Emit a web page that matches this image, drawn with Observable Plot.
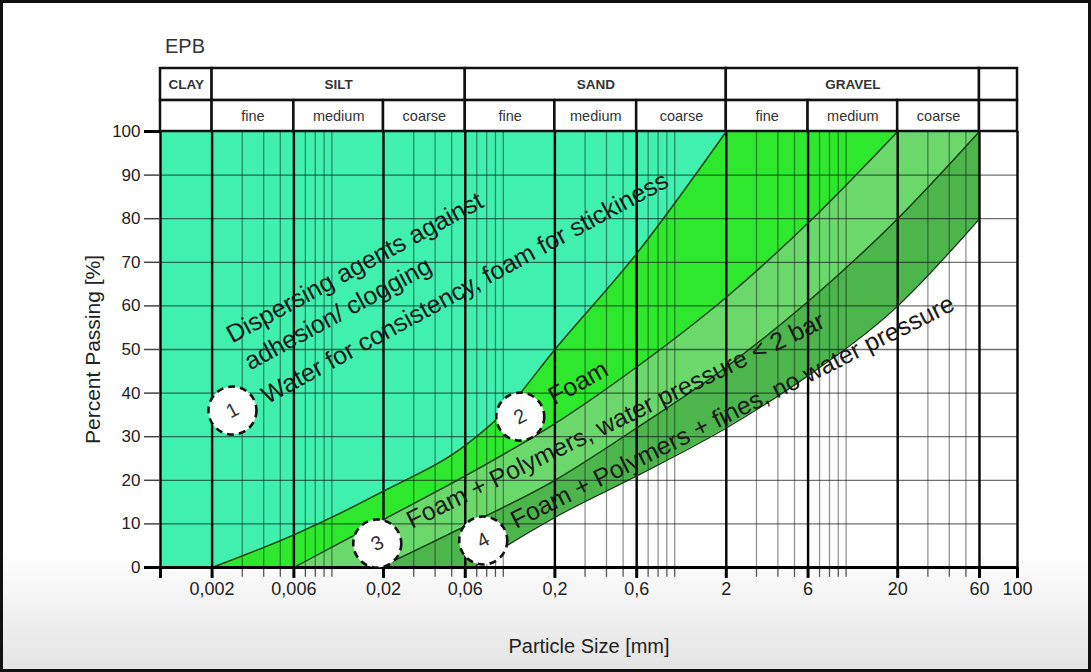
<!DOCTYPE html>
<html>
<head>
<meta charset="utf-8">
<script src="https://cdn.jsdelivr.net/npm/d3@7"></script>
<script src="https://cdn.jsdelivr.net/npm/@observablehq/plot@0.6"></script>
<style>
  html, body { margin: 0; padding: 0; }
  body { width: 1091px; height: 672px; overflow: hidden; font-family: "Liberation Sans", Arial, sans-serif; }
  #wrap { position: relative; width: 1091px; height: 672px;
          background: linear-gradient(to bottom, #ffffff 0%, #ffffff 82%, #e3e3e3 100%); }
  #chart { position: absolute; left: 0; top: 0; }
  #title { position: absolute; left: 165px; top: 35px; font-size: 20px; color: #333; }
  #frame { position: absolute; left: 0; top: 0; width: 1091px; height: 672px; box-sizing: border-box;
           border: 3px solid #111; pointer-events: none; }
</style>
</head>
<body>
<div id="wrap">
  <div id="chart"></div>
  <div id="title">EPB</div>
  <div id="frame"></div>
</div>
<script>
// ---------------- data ----------------
const titleText = "EPB";
const xLabel = "Particle Size [mm]";
const yLabel = "Percent Passing [%]";

const sizeDomain = [0.001, 100];
const fillEnd = 60;
const tableRowSplit = 107.1;
const tableTop = 114.45;

const yTicks = [0, 10, 20, 30, 40, 50, 60, 70, 80, 90, 100];
const xMajor = [0.001, 0.002, 0.006, 0.02, 0.06, 0.2, 0.6, 2, 6, 20, 60, 100];
const xMajorLabels = ["", "0,002", "0,006", "0,02", "0,06", "0,2", "0,6", "2", "6", "20", "60", "100"];
const xMinor = [0.003, 0.004, 0.005, 0.007, 0.008, 0.009, 0.01,
                0.03, 0.04, 0.05, 0.07, 0.08, 0.09, 0.1,
                0.3, 0.4, 0.5, 0.7, 0.8, 0.9, 1,
                3, 4, 5, 7, 8, 9, 10,
                30, 40, 50];

const mainClasses = ["CLAY", "SILT", "SAND", "GRAVEL", ""];
const mainBounds = [0.001, 0.002, 0.06, 2, 60, 100];
const subClasses = ["", "fine", "medium", "coarse", "fine", "medium", "coarse", "fine", "medium", "coarse", ""];
const subBounds = [0.001, 0.002, 0.006, 0.02, 0.06, 0.2, 0.6, 2, 6, 20, 60, 100];

// grading limit curves: [particle size mm, percent passing]
const curve1 = [[0.002, 0], [0.006, 7.5], [0.02, 17.5], [0.06, 28], [0.1, 35.5], [0.2, 50], [0.6, 72], [2, 100]];
const curve2 = [[0.006, 0], [0.02, 11], [0.06, 21], [0.2, 33], [0.6, 46], [2, 62], [6, 79], [20, 100]];
const curve3 = [[0.019, 0], [0.06, 9.5], [0.2, 20], [0.6, 32], [2, 46], [6, 61], [20, 80], [60, 100]];
const curve4 = [[0.067, 0], [0.1, 4.5], [0.2, 11.5], [0.6, 21], [2, 32], [6, 44], [20, 60], [60, 80]];

const zoneColors = ["#3ff0ae", "#2ee82e", "#6bd86b", "#4cb54c"];

const noteTexts = ["Dispersing agents against", "adhesion/ clogging", "Water for consistency, foam for stickiness",
                   "Foam", "Foam + Polymers, water pressure < 2 bar", "Foam + Polymers + fines, no water pressure"];
const noteSizes = [0.00249, 0.00317, 0.00399, 0.188, 0.0279, 0.113];
const notePcts = [53.0, 46.8, 39.0, 38.8, 10.5, 10.5];
const noteAngles = [-28.5, -28.5, -28.5, -29, -26, -26.5];

const badgeLabels = ["1", "2", "3", "4"];
const badgeSizes = [0.00263, 0.1256, 0.0184, 0.0764];
const badgePcts = [36.0, 34.6, 5.5, 6.2];

// ---------------- build ----------------
document.getElementById("title").textContent = titleText;

const labelMap = new Map(xMajor.map((v, i) => [v, xMajorLabels[i]]));
const mainRow = mainClasses.map((t, i) => ({t, x1: mainBounds[i], x2: mainBounds[i + 1]}));
const subRow = subClasses.map((t, i) => ({t, x1: subBounds[i], x2: subBounds[i + 1]}));
const notes = noteTexts.map((t, i) => ({t, x: noteSizes[i], y: notePcts[i], a: noteAngles[i]}));
const badges = badgeLabels.map((t, i) => ({t, x: badgeSizes[i], y: badgePcts[i]}));

const px = d => d[0], py = d => d[1];
const font = "'Liberation Sans', Arial, sans-serif";
const tickDepth = -2.5; // tick length below the baseline, in y units

const marks = [
  // zones (painter's order)
  Plot.rect([[sizeDomain[0], fillEnd]], {x1: d => d[0], x2: d => d[1], y1: 0, y2: 100, fill: zoneColors[0]}),
  Plot.areaY(curve1, {x: px, y: py, fill: zoneColors[1], curve: "monotone-x"}),
  Plot.rect([curve1[curve1.length - 1]], {x1: px, x2: fillEnd, y1: 0, y2: 100, fill: zoneColors[1]}),
  Plot.areaY(curve2, {x: px, y: py, fill: zoneColors[2], curve: "monotone-x"}),
  Plot.rect([curve2[curve2.length - 1]], {x1: px, x2: fillEnd, y1: 0, y2: 100, fill: zoneColors[2]}),
  Plot.areaY(curve3, {x: px, y: py, fill: zoneColors[3], curve: "monotone-x"}),
  Plot.areaY(curve4, {x: px, y: py, fill: "white", curve: "monotone-x"}),

  // grid
  Plot.ruleY(yTicks.filter(v => v > 0 && v < 100), {x1: sizeDomain[0], x2: sizeDomain[1], stroke: "#111", strokeOpacity: 0.6, strokeWidth: 1.3}),
  Plot.ruleX(xMinor, {y1: 0, y2: 100, stroke: "#111", strokeOpacity: 0.45, strokeWidth: 1.3}),
  Plot.ruleX(xMajor, {y1: 0, y2: 100, stroke: "#000", strokeWidth: 2.4}),

  // curves
  ...[curve1, curve2, curve3, curve4].map(c =>
    Plot.line(c, {x: px, y: py, curve: "monotone-x", stroke: "#123a12", strokeWidth: 1.4})),

  // header table
  Plot.rect(mainRow, {x1: "x1", x2: "x2", y1: tableRowSplit, y2: tableTop, fill: "white", stroke: "#111", strokeWidth: 2.5}),
  Plot.rect(subRow, {x1: "x1", x2: "x2", y1: 100, y2: tableRowSplit, fill: "white", stroke: "#111", strokeWidth: 2.5}),
  Plot.text(mainRow, {x: d => Math.sqrt(d.x1 * d.x2), y: (tableRowSplit + tableTop) / 2, text: "t", fontSize: 13.5, fontWeight: "bold", fill: "#333", fontFamily: font}),
  Plot.text(subRow, {x: d => Math.sqrt(d.x1 * d.x2), y: (100 + tableRowSplit) / 2, text: "t", fontSize: 14.5, fill: "#333", fontFamily: font}),

  // axes
  Plot.axisY(yTicks, {tickSize: 16, tickPadding: 4, fontSize: 17, stroke: "#444", strokeWidth: 1.5, label: null, fontFamily: font}),
  Plot.axisY([0, 100], {tickSize: 16, strokeWidth: 3, stroke: "#000", tickFormat: () => "", label: null}),
  Plot.ruleX(xMinor, {y1: 0, y2: tickDepth * 0.9, stroke: "#555", strokeWidth: 1.3}),
  Plot.ruleX(xMajor, {y1: 0, y2: tickDepth, stroke: "#000", strokeWidth: 3}),
  Plot.text(xMajor, {x: d => d, text: d => labelMap.get(d), frameAnchor: "bottom", dy: 27, fontSize: 18, fill: "#222", fontFamily: font}),
  Plot.ruleY([0], {x1: sizeDomain[0], x2: sizeDomain[1], stroke: "#000", strokeWidth: 3}),

  // axis titles
  Plot.text([yLabel], {x: sizeDomain[0], y: 50, text: d => d, rotate: -90, dx: -67, fontSize: 21, fill: "#222", fontFamily: font}),
  Plot.text([xLabel], {frameAnchor: "bottom", dy: 85, text: d => d, fontSize: 20, fill: "#222", fontFamily: font}),

  // annotations
  Plot.text(notes, {x: "x", y: "y", text: "t", rotate: "a", textAnchor: "start", lineAnchor: "middle", fontSize: 25, fill: "#1a1a1a", fontFamily: font}),
  Plot.dot(badges, {x: "x", y: "y", r: 24, fill: "white", stroke: "#111", strokeWidth: 2.6, strokeDasharray: "7,5"}),
  Plot.text(badges, {x: "x", y: "y", text: "t", rotate: -28, fontSize: 20, fill: "#333", fontFamily: font})
];

const chart = Plot.plot({
  width: 1091,
  height: 672,
  marginLeft: 160,
  marginRight: 74,
  marginTop: 68,
  marginBottom: 105,
  x: {type: "log", domain: sizeDomain, axis: null},
  y: {domain: [0, tableTop], axis: null},
  style: {background: "transparent", fontFamily: font, color: "#222", overflow: "visible"},
  marks
});
document.getElementById("chart").appendChild(chart);
</script>
</body>
</html>
